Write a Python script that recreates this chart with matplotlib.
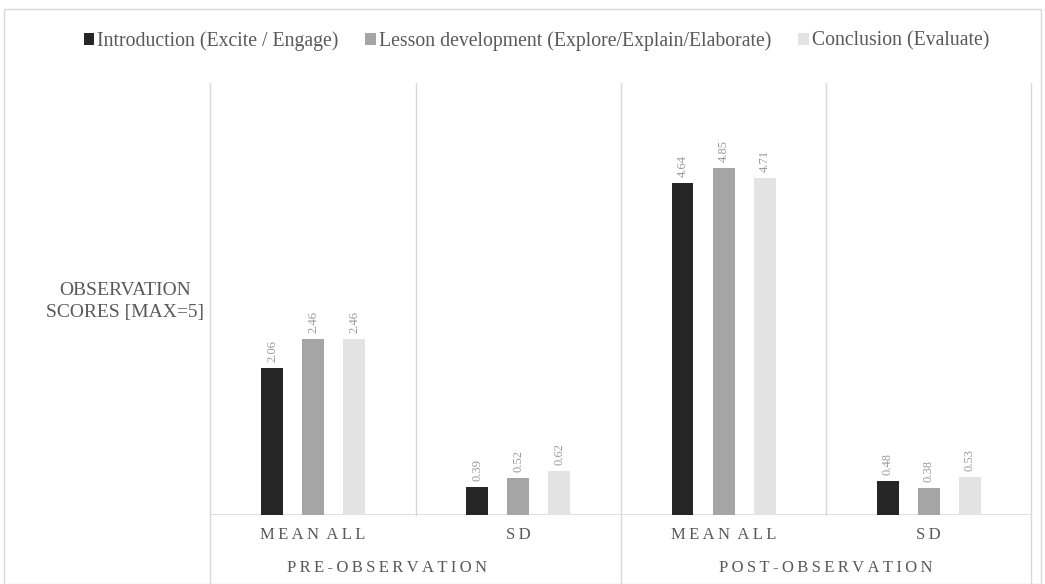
import matplotlib

matplotlib.use('Agg')

from matplotlib import pyplot as plt
from matplotlib import transforms
from matplotlib.patches import Rectangle
import numpy as np

plt.rcParams['font.family'] = ['Liberation Serif', 'DejaVu Serif']

series = ['Introduction (Excite / Engage)',
          'Lesson development (Explore/Explain/Elaborate)',
          'Conclusion (Evaluate)']
categories = ['MEAN ALL', 'SD', 'MEAN ALL', 'SD']
groups = ['PRE-OBSERVATION', 'POST-OBSERVATION']

intro = [2.06, 0.39, 4.64, 0.48]
lesson = [2.46, 0.52, 4.85, 0.38]
conclusion = [2.46, 0.62, 4.71, 0.53]

colors = ['#262626', '#a5a5a5', '#e3e3e3']
text_col = '#595959'
line_col = '#d9d9d9'


def spaced(s):
  # widen the letters a bit, like the tracked caps in the original
  return '\u2009'.join(s).replace('\u2009 \u2009', '  ')


def main():
  fig = plt.figure(figsize=(10.45, 5.84), dpi=100)
  ax = fig.add_axes([0.2014, 0.118, 0.7856, 0.74])

  x = np.arange(len(categories))
  offsets = [-0.2, 0, 0.2]
  for vals, off, col, name in zip([intro, lesson, conclusion], offsets,
                                  colors, series):
    bars = ax.bar(x + off, vals, width=0.107, color=col, label=name,
                  zorder=3)
    for b, v in zip(bars, vals):
      ax.text(b.get_x() + b.get_width() / 2, v + 0.08, '%.2f' % v,
              rotation=90, ha='center', va='bottom', fontsize=9,
              color='#999999')

  ax.set_xlim(-0.5, len(categories) - 0.5)
  ax.set_ylim(0, 6.04)
  ax.set_xticks([])
  ax.set_yticks([])
  for s in ax.spines.values():
    s.set_visible(False)

  ax.axhline(0, color=line_col, lw=1.2, zorder=2)
  trans = transforms.blended_transform_factory(ax.transData, ax.transAxes)
  # separators inside a group stop at the baseline
  for xs in [0.5, 2.5]:
    ax.plot([xs, xs], [0, 1], color=line_col, lw=1, transform=trans,
            clip_on=False)
  # group separators run down through the labels
  for xs in [-0.5, 1.5, 3.5]:
    ax.plot([xs, xs], [-0.16, 1], color=line_col, lw=1, transform=trans,
            clip_on=False)

  for xi, c in zip(x, categories):
    ax.text(xi, -0.045, spaced(c), transform=trans, ha='center',
            va='center', fontsize=12, color=text_col)
  # the pre label sits a little left of its group centre in the original
  for gx, g in zip([0.36, 2.5], groups):
    ax.text(gx, -0.123, spaced(g), transform=trans, ha='center',
            va='center', fontsize=12, color=text_col)

  fig.text(0.12, 0.4837, 'OBSERVATION\nSCORES [MAX=5]', ha='center',
           va='center', fontsize=14, color=text_col, linespacing=1.4)

  fig.legend(loc='center', bbox_to_anchor=(0.5134, 0.93), ncol=3,
             frameon=False, fontsize=14.2, handlelength=0.55,
             handleheight=0.55, handletextpad=0.15, columnspacing=1.35,
             labelcolor=text_col)

  fig.patches.append(Rectangle((0.004, 0.0), 0.992, 0.985, fill=False,
                               edgecolor='#d9d9d9', lw=1,
                               transform=fig.transFigure))

  fig.savefig('out.png', dpi=100, facecolor='white')


if __name__ == '__main__':
  main()
